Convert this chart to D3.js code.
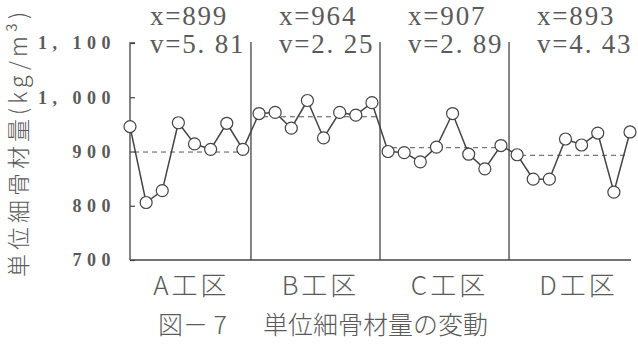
<!DOCTYPE html>
<html><head><meta charset="utf-8">
<script src="https://cdn.jsdelivr.net/npm/d3@7"></script>
<style>body{margin:0;background:#fff}svg{display:block}</style>
</head><body>
<svg id="c" width="638" height="344"></svg>
<script>
const categories = ["A工区", "B工区", "C工区", "D工区"];
const seriesA = [946, 806, 828, 953, 914, 904, 952, 904];
const seriesB = [970, 972, 943, 994, 925, 972, 967, 990];
const seriesC = [900, 898, 881, 908, 970, 895, 868, 911];
const seriesD = [894, 849, 849, 923, 912, 934, 825, 936];
const means = [899, 964, 907, 893];
const meanLabels = ["x=899", "x=964", "x=907", "x=893"];
const cvLabels = ["v=5. 81", "v=2. 25", "v=2. 89", "v=4. 43"];
const yTicks = [700, 800, 900, 1000, 1100];
const yTickLabels = ["700", "800", "900", "1, 000", "1, 100"];
const yTitle = "単位細骨材量(kg/m³)";
const caption1 = "図－ 7";
const caption2 = "単位細骨材量の変動";

const series = [seriesA, seriesB, seriesC, seriesD];
const all = series.flat();
const n = all.length;
const per = seriesA.length;

const svg = d3.select("#c");
const x = d3.scaleLinear().domain([0, n - 1]).range([130, 630]);
const y = d3.scaleLinear().domain([700, 1100]).range([260, 43]);

const ink = "#444", txt = "#5a5a5a";

// y axis
const yAxis = d3.axisRight(y).tickValues(yTicks).tickSize(5).tickFormat("");
const ga = svg.append("g").attr("transform", `translate(${x(0)},0)`).call(yAxis);
ga.select(".domain").attr("stroke", ink).attr("stroke-width", 1.3).attr("d", `M5,${y(1100)}H0V${y(700)}`);
ga.selectAll(".tick line").attr("stroke", ink).attr("stroke-width", 1.2);

// tick labels
svg.append("g").selectAll("text").data(yTicks).join("text")
  .attr("x", 116).attr("y", d => y(d)).attr("dy", "0.35em")
  .attr("text-anchor", "end")
  .attr("font-family", "Liberation Serif").attr("font-weight", "bold")
  .attr("font-size", 18).attr("letter-spacing", 5.5).attr("fill", txt)
  .text((d, i) => yTickLabels[i]);

// bottom axis line
svg.append("line").attr("x1", x(0)).attr("x2", x(n - 1) + 1)
  .attr("y1", y(700)).attr("y2", y(700)).attr("stroke", ink).attr("stroke-width", 1.3);

// dividers
svg.append("g").selectAll("line").data([1, 2, 3]).join("line")
  .attr("x1", k => x(k * per - 0.5)).attr("x2", k => x(k * per - 0.5))
  .attr("y1", y(1100) - 1).attr("y2", y(700))
  .attr("stroke", ink).attr("stroke-width", 1.3);

// mean dashed lines
svg.append("g").selectAll("line").data(means).join("line")
  .attr("x1", (d, k) => k === 0 ? x(0) + 4 : x(k * per - 0.5) + 3)
  .attr("x2", (d, k) => k === 3 ? x(n - 1) - 4 : x(k * per + per - 0.5) - 3)
  .attr("y1", d => y(d)).attr("y2", d => y(d))
  .attr("stroke", "#555").attr("stroke-width", 1).attr("stroke-dasharray", "5,4");

// line
svg.append("path").datum(all)
  .attr("d", d3.line().x((d, i) => x(i)).y(d => y(d)))
  .attr("fill", "none").attr("stroke", ink).attr("stroke-width", 1.5);

// points
svg.append("g").selectAll("circle").data(all).join("circle")
  .attr("cx", (d, i) => x(i)).attr("cy", d => y(d)).attr("r", 6)
  .attr("fill", "#fff").attr("stroke", ink).attr("stroke-width", 1.2);

// annotations
const ann = svg.append("g").attr("font-family", "Liberation Serif")
  .attr("font-size", 27).attr("fill", txt).attr("letter-spacing", 1.8);
ann.selectAll("text.m").data(meanLabels).join("text").attr("class", "m")
  .attr("x", (d, k) => x(k * per - 0.5) + 28).attr("y", 25).text(d => d);
ann.selectAll("text.v").data(cvLabels).join("text").attr("class", "v")
  .attr("x", (d, k) => x(k * per - 0.5) + 28).attr("y", 53).text(d => d);

// category labels
svg.append("g").selectAll("text").data(categories).join("text")
  .attr("x", (d, k) => x(k * per + 3.5) + 5).attr("y", 295)
  .attr("text-anchor", "middle")
  .attr("font-family", "Noto Sans CJK JP").attr("font-weight", 300)
  .attr("font-size", 26).attr("letter-spacing", 3).attr("fill", txt)
  .text(d => d);

// caption
const cap = svg.append("text").attr("y", 334)
  .attr("font-family", "Noto Sans CJK JP").attr("font-weight", 300)
  .attr("font-size", 25).attr("fill", txt);
cap.append("tspan").attr("x", 158).text(caption1);
cap.append("tspan").attr("x", 263).text(caption2);

// y title
svg.append("text").attr("transform", "translate(27,277) rotate(-90)")
  .attr("font-family", "Noto Sans CJK JP").attr("font-weight", 300)
  .attr("font-size", 23).attr("letter-spacing", 4).attr("fill", txt)
  .text(yTitle);
</script>
</body></html>
